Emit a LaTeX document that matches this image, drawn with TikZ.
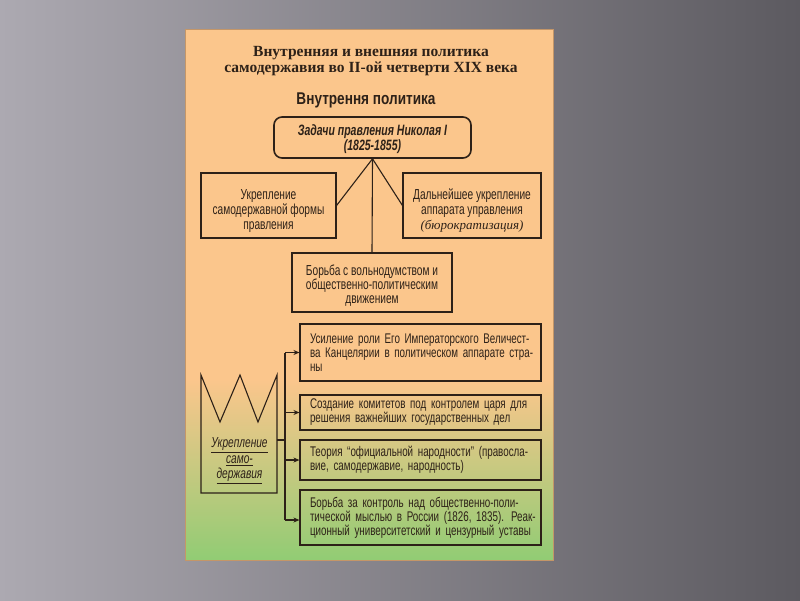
\documentclass[tikz,border=0pt]{standalone}
\usepackage{fontspec}
\setmainfont{Liberation Serif}
\newfontfamily\nsans[FakeStretch=0.7]{Liberation Sans}
\newfontfamily\hsans[FakeStretch=0.8]{Liberation Sans}
\usetikzlibrary{arrows.meta}
\definecolor{bgL}{RGB}{172,169,177}
\definecolor{bgM}{RGB}{122,120,127}
\definecolor{bgR}{RGB}{92,90,96}
\definecolor{cardO}{RGB}{251,198,140}
\definecolor{cardY}{RGB}{228,204,128}
\definecolor{cardG}{RGB}{145,204,116}
\definecolor{ink}{RGB}{45,33,24}
\definecolor{cardEdge}{RGB}{196,150,104}
\tikzset{
  plainbox/.style={draw=ink, line width=1.1pt, inner sep=0pt, align=center, text=ink,
    font=\nsans\fontsize{14.5}{15}\selectfont},
  listbox/.style={draw=ink, line width=1.1pt, inner xsep=10pt, inner ysep=0pt, align=left, text=ink,
    minimum width=241pt, text width=221pt, font=\nsans\fontsize{14}{14}\selectfont},
  conn/.style={draw=ink, line width=1.1pt},
  arr/.style={conn, -{Stealth[length=6pt,width=5pt]}}
}
\begin{document}
\begin{tikzpicture}[x=1pt,y=-1pt]
\useasboundingbox (0,0) rectangle (800,600);
\shade[left color=bgL, middle color=bgM, right color=bgR] (0,0) rectangle (800,600);
% card
\fill[cardO] (185,29) rectangle (553,560);
\shade[top color=cardO, middle color=cardY, bottom color=cardG] (185,380) rectangle (553,560);
\draw[cardEdge, line width=0.8pt] (185,29) rectangle (553,560);
% titles
\node[text=ink, align=center, font=\bfseries\fontsize{15.5}{16}\selectfont] (title) at (371,61)
  {Внутренняя и внешняя политика\\самодержавия во II-ой четверти XIX века};
\node[text=ink, font=\hsans\bfseries\fontsize{17}{18}\selectfont] (sub) at (366,100) {Внутрення политика};
% top box
\node[plainbox, line width=1.6pt, rounded corners=8pt, minimum width=197pt, minimum height=41pt,
  font=\nsans\bfseries\itshape\fontsize{15}{15}\selectfont] (task) at (372.5,137.5)
  {\rule{0pt}{15pt}Задачи правления Николая I\\(1825-1855)};
\node[plainbox, minimum width=135pt, minimum height=65pt] (lbox) at (268.5,205.5)
  {\rule{0pt}{21pt}Укрепление\\самодержавной формы\\правления};
\node[plainbox, minimum width=138pt, minimum height=65pt] (rbox) at (472,205.5)
  {\rule{0pt}{21pt}Дальнейшее укрепление\\аппарата управления\\{\rmfamily\itshape\fontsize{13}{15}\selectfont (бюрократизация)}};
\node[plainbox, minimum width=160pt, minimum height=59pt, font=\nsans\fontsize{14.5}{13.5}\selectfont] (bbox) at (372,282.5)
  {\rule{0pt}{16.5pt}Борьба с вольнодумством и\\общественно-политическим\\движением};
\draw[conn] (lbox.east) -- (task.south) -- (rbox.west);
\draw[conn] (task.south) -- (bbox.north);
% lower boxes
\node[listbox, minimum height=57pt] (b1) at (420.5,352.5)
  {\mbox{Усиление роли Его Императорского Величест-}\\\mbox{ва Канцелярии в политическом аппарате стра-}\\ны};
\node[listbox, minimum height=35pt] (b2) at (420.5,412.5)
  {\mbox{Создание комитетов под контролем царя для}\\\mbox{решения важнейших государственных дел}};
\node[listbox, minimum height=40pt] (b3) at (420.5,460)
  {\mbox{Теория “официальной народности” (правосла-}\\\mbox{вие, самодержавие, народность)}};
\node[listbox, minimum height=55pt] (b4) at (420.5,517.5)
  {\mbox{Борьба за контроль над общественно-поли-}\\\mbox{тической мыслью в России (1826, 1835). Реак-}\\\mbox{ционный университетский и цензурный уставы}};
% crown shape
\draw[conn, line join=miter] (201,493) -- (201,375) -- (220,422) -- (240,375) -- (258,422) -- (277,375) -- (277,493) -- cycle;
\node[text=ink, align=center, font=\nsans\itshape\fontsize{14.5}{15.5}\selectfont] (crown) at (239.5,461)
  {\underline{Укрепление}\\\underline{само-}\\\underline{державия}};
\coordinate (cj) at (277,440);
\coordinate (bt) at (285,352.5);
\coordinate (bb) at (285,520);
\draw[conn] (bt) -- (bb);
\draw[conn] (cj) -- (cj -| bt);
\draw[arr] (b1.west -| bt) -- (b1.west);
\draw[arr] (b2.west -| bt) -- (b2.west);
\draw[arr] (b3.west -| bt) -- (b3.west);
\draw[arr] (bb) -- (bb -| b4.west);
\end{tikzpicture}
\end{document}
